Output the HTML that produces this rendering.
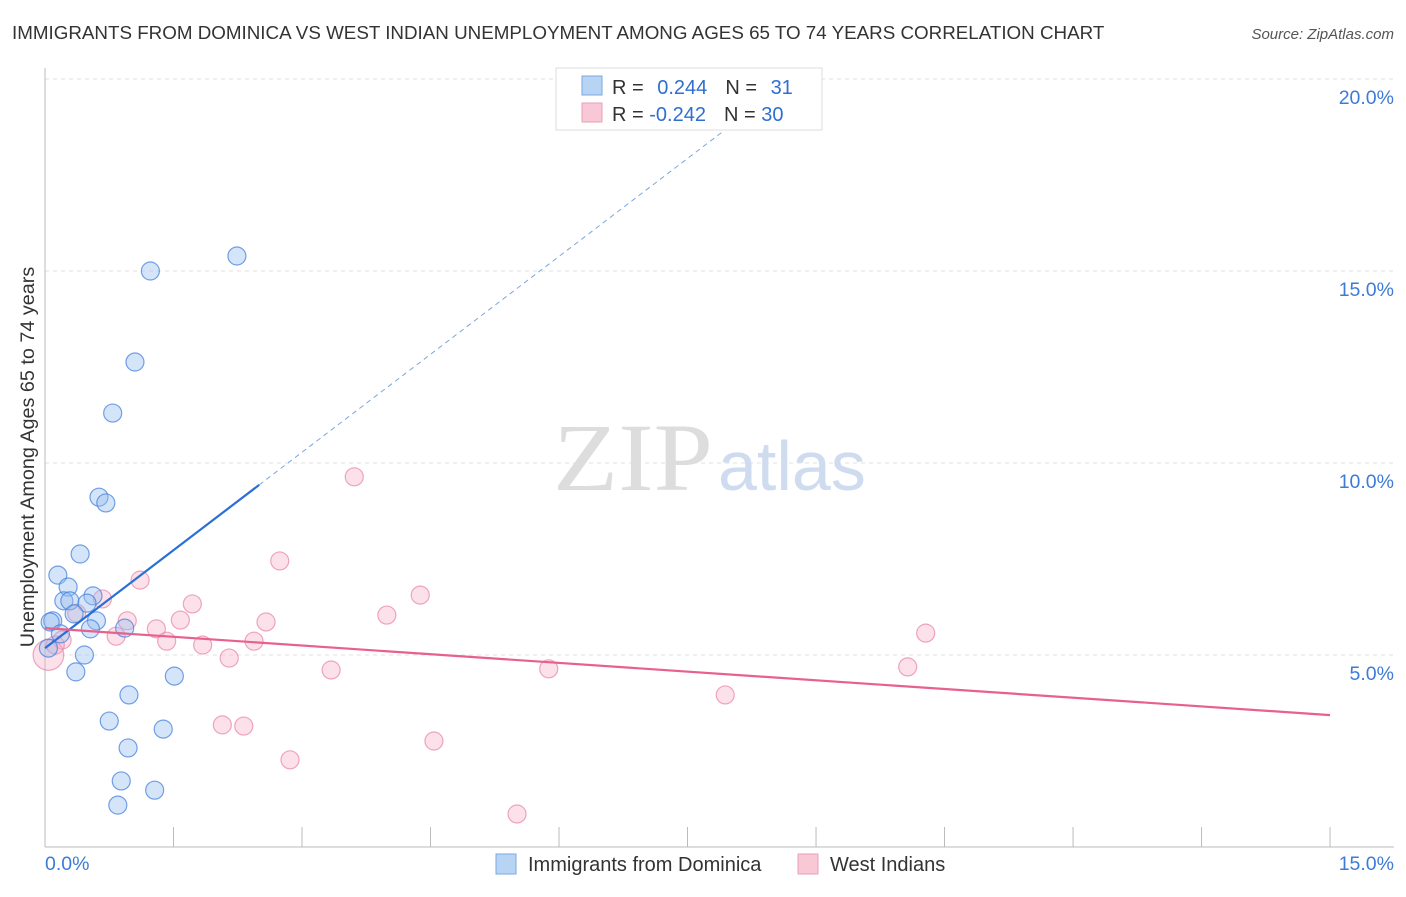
<!DOCTYPE html>
<html><head><meta charset="utf-8">
<style>
body{margin:0;background:#fff;font-family:"Liberation Sans",sans-serif;}
svg text{font-family:"Liberation Sans",sans-serif;}
</style></head>
<body>
<svg id="chart" width="1406" height="892" xmlns="http://www.w3.org/2000/svg">
<text x="12" y="39" font-size="18.8" fill="#333">IMMIGRANTS FROM DOMINICA VS WEST INDIAN UNEMPLOYMENT AMONG AGES 65 TO 74 YEARS CORRELATION CHART</text>
<text x="1394" y="39" font-size="15" fill="#555" font-style="italic" text-anchor="end">Source: ZipAtlas.com</text>
<g id="grid"></g>
<line x1="45" y1="68" x2="45" y2="847" stroke="#bbb"/>
<line x1="45" y1="847" x2="1394" y2="847" stroke="#bbb"/>
<text x="553" y="490" font-size="96" fill="#ddd" textLength="160" lengthAdjust="spacingAndGlyphs" style="font-family:'Liberation Serif',serif">ZIP</text>
<text x="718" y="490" font-size="70" fill="#cfdcef">atlas</text>
<g id="ticks"></g>
<g id="pts"></g>
<g id="lines"></g>
<text transform="translate(34,457) rotate(-90)" font-size="19.8" fill="#333" text-anchor="middle">Unemployment Among Ages 65 to 74 years</text>
<g>
<rect x="556" y="68" width="266" height="62" fill="#fff" stroke="#ddd"/>
<rect x="582" y="76" width="20" height="19" fill="#b8d4f5" stroke="#7aa8e0"/>
<rect x="582" y="103" width="20" height="19" fill="#f9c8d6" stroke="#e9a0b8"/>
<text x="612" y="94" font-size="20" fill="#333">R = <tspan fill="#2e6fd0" dx="8">0.244</tspan><tspan dx="18" fill="#333">N = </tspan><tspan dx="8" fill="#2e6fd0">31</tspan></text>
<text x="612" y="121" font-size="20" fill="#333">R = <tspan fill="#2e6fd0" dx="0">-0.242</tspan><tspan dx="18" fill="#333">N = </tspan><tspan fill="#2e6fd0">30</tspan></text>
</g>
<g>
<rect x="496" y="854" width="20" height="20" fill="#b8d4f5" stroke="#7aa8e0"/>
<text x="528" y="871" font-size="20" fill="#333">Immigrants from Dominica</text>
<rect x="798" y="854" width="20" height="20" fill="#f9c8d6" stroke="#e9a0b8"/>
<text x="830" y="871" font-size="20" fill="#333">West Indians</text>
</g>
</svg>
<script>
const xTicks=[0,1.5,3,4.5,6,7.5,9,10.5,12,13.5,15];
const yTicks=[5,10,15,20];
const yTickLabels=["5.0%","10.0%","15.0%","20.0%"];
const blueX=[2.24,1.23,1.05,0.79,0.63,0.71,0.41,0.15,0.27,0.22,0.29,0.56,0.49,0.34,0.09,0.06,0.60,0.53,0.93,0.18,0.04,0.46,0.36,1.51,0.98,0.75,1.38,0.97,0.89,1.28,0.85];
const blueY=[15.39,15.0,12.63,11.30,9.11,8.96,7.63,7.08,6.77,6.41,6.41,6.54,6.35,6.07,5.89,5.86,5.89,5.68,5.70,5.55,5.18,5.0,4.56,4.45,3.96,3.28,3.07,2.58,1.72,1.48,1.09];
const pinkX=[3.61,2.74,1.11,4.38,0.67,1.72,3.99,2.58,1.58,0.96,1.30,10.28,0.37,0.20,0.83,1.42,2.44,1.84,2.15,0.04,10.07,3.34,5.88,7.94,2.07,2.32,4.54,2.86,5.51,0.12];
const pinkY=[9.64,7.45,6.95,6.56,6.46,6.33,6.04,5.86,5.91,5.89,5.68,5.57,6.09,5.39,5.49,5.36,5.36,5.26,4.92,5.0,4.69,4.61,4.64,3.96,3.18,3.15,2.76,2.27,0.86,5.26];
const pinkSize=[1,1,1,1,1,1,1,1,1,1,1,1,1,1,1,1,1,1,1,1.7,1,1,1,1,1,1,1,1,1,1];
const blueTrend=[5.18,1.70];
const pinkTrend=[5.70,-0.151];
const sx=v=>45+v*85.67, sy=v=>847-v*38.4;
const NS="http://www.w3.org/2000/svg";
function mk(t,a,p){const e=document.createElementNS(NS,t);for(const k in a)e.setAttribute(k,a[k]);p.appendChild(e);return e;}
const grid=document.getElementById('grid'),ticks=document.getElementById('ticks'),pts=document.getElementById('pts'),lines=document.getElementById('lines');
yTicks.forEach((v,i)=>{
 const l=mk('line',{x1:45,x2:1394,y1:sy(v),y2:sy(v),stroke:'#e2e2e2','stroke-dasharray':'4,4'},grid);
 
 
 const t=mk('text',{x:1394,y:sy(v)+25,'font-size':19.5,fill:'#3d7bd6','text-anchor':'end'},ticks);
 t.textContent=yTickLabels[i];
 
 
});
xTicks.forEach(v=>{
 const l=mk('line',{x1:sx(v),x2:sx(v),y1:827,y2:847,stroke:'#bbb'},ticks);
 
 
});
let t0=mk('text',{x:45,y:870,'font-size':19.5,fill:'#3d7bd6'},ticks);t0.textContent='0.0%';


let t1=mk('text',{x:1394,y:870,'font-size':19.5,fill:'#3d7bd6','text-anchor':'end'},ticks);t1.textContent='15.0%';


pinkX.forEach((x,i)=>{
 const c=mk('circle',{cx:sx(x),cy:sy(pinkY[i]),r:9*pinkSize[i],fill:'rgba(246,170,195,0.35)',stroke:'rgba(232,130,165,0.7)','stroke-width':1.2},pts);
 
 
});
blueX.forEach((x,i)=>{
 const c=mk('circle',{cx:sx(x),cy:sy(blueY[i]),r:9,fill:'rgba(150,190,240,0.4)',stroke:'rgba(70,130,220,0.75)','stroke-width':1.2},pts);
 
 
});
const bl=mk('line',{x1:sx(0),y1:sy(blueTrend[0]),x2:sx(2.5),y2:sy(blueTrend[0]+2.5*blueTrend[1]),stroke:'#2a6fd6','stroke-width':2.2},lines);


const bd=mk('line',{x1:sx(2.5),y1:sy(blueTrend[0]+2.5*blueTrend[1]),x2:sx(8.6),y2:sy(blueTrend[0]+8.6*blueTrend[1]),stroke:'#7aa5e0','stroke-width':1,'stroke-dasharray':'5,4'},lines);


const pl=mk('line',{x1:sx(0),y1:sy(pinkTrend[0]),x2:sx(15),y2:sy(pinkTrend[0]+15*pinkTrend[1]),stroke:'#e8608d','stroke-width':2.2},lines);


</script>
</body></html>
